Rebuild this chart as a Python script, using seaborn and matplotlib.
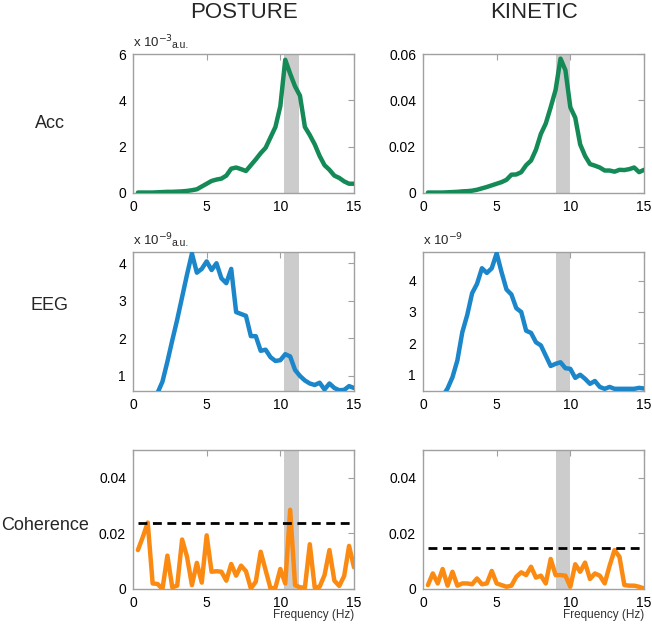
import numpy as np
import pandas as pd
import matplotlib
matplotlib.use('Agg')
import matplotlib.pyplot as plt
import seaborn as sns

# frequency axis, 1/3 Hz resolution
freq = np.arange(1, 46) / 3.0

# Acc power (posture in x 1e-3 a.u., kinetic in a.u.)
acc_posture = [0.02, 0.02, 0.02, 0.02, 0.03, 0.04, 0.05, 0.05, 0.06, 0.07,
               0.09, 0.12, 0.16, 0.28, 0.40, 0.52, 0.58, 0.62, 0.75, 1.05,
               1.10, 1.03, 0.95, 1.20, 1.45, 1.72, 1.95, 2.40, 2.85, 3.75,
               5.75, 5.15, 4.60, 4.20, 2.85, 2.50, 2.10, 1.60, 1.20, 1.00,
               0.75, 0.65, 0.50, 0.40, 0.40]
acc_kinetic = [0.0002, 0.0002, 0.0002, 0.0002, 0.0003, 0.0004, 0.0005, 0.0007, 0.0008, 0.0010,
               0.0014, 0.0020, 0.0026, 0.0033, 0.0040, 0.0047, 0.0057, 0.0079, 0.0080, 0.0090,
               0.0120, 0.0140, 0.0187, 0.0255, 0.0300, 0.0370, 0.0445, 0.0580, 0.0530, 0.0370,
               0.0325, 0.0210, 0.0160, 0.0125, 0.0118, 0.0110, 0.0097, 0.0097, 0.0092, 0.0100,
               0.0099, 0.0103, 0.0110, 0.0090, 0.0100]

# EEG power (x 1e-9)
eeg_posture = [0.15, 0.20, 0.30, 0.40, 0.55, 0.85, 1.38, 1.95, 2.50, 3.10,
               3.70, 4.26, 3.75, 3.85, 4.05, 3.82, 4.00, 3.60, 3.47, 3.85,
               2.70, 2.65, 2.60, 2.06, 2.06, 1.67, 1.70, 1.50, 1.40, 1.42,
               1.58, 1.52, 1.16, 1.00, 0.88, 0.80, 0.76, 0.82, 0.64, 0.80,
               0.68, 0.62, 0.63, 0.73, 0.68]
eeg_kinetic = [0.10, 0.15, 0.20, 0.30, 0.55, 0.91, 1.45, 2.35, 2.90, 3.60,
               3.90, 4.40, 4.25, 4.40, 4.88, 4.27, 3.72, 3.56, 3.12, 3.00,
               2.40, 2.33, 2.03, 1.93, 1.60, 1.27, 1.34, 1.39, 1.20, 1.18,
               0.89, 0.99, 0.86, 0.70, 0.79, 0.60, 0.54, 0.60, 0.54, 0.54,
               0.54, 0.54, 0.54, 0.57, 0.55]

# coherence
coh_posture = [0.0140, 0.0187, 0.0239, 0.0020, 0.0018, 0.0000, 0.0120, 0.0006, 0.0012, 0.0178,
               0.0116, 0.0014, 0.0094, 0.0023, 0.0193, 0.0062, 0.0064, 0.0062, 0.0030, 0.0090,
               0.0048, 0.0084, 0.0064, 0.0002, 0.0026, 0.0134, 0.0068, 0.0002, 0.0005, 0.0072,
               0.0020, 0.0285, 0.0014, 0.0006, 0.0005, 0.0161, 0.0005, 0.0008, 0.0050, 0.0140,
               0.0030, 0.0011, 0.0047, 0.0155, 0.0078]
coh_kinetic = [0.0014, 0.0056, 0.0020, 0.0072, 0.0012, 0.0062, 0.0012, 0.0020, 0.0020, 0.0017,
               0.0038, 0.0017, 0.0020, 0.0065, 0.0020, 0.0014, 0.0008, 0.0012, 0.0044, 0.0060,
               0.0050, 0.0080, 0.0041, 0.0048, 0.0020, 0.0108, 0.0050, 0.0050, 0.0048, 0.0008,
               0.0089, 0.0062, 0.0095, 0.0036, 0.0056, 0.0048, 0.0020, 0.0084, 0.0140, 0.0116,
               0.0014, 0.0012, 0.0012, 0.0008, 0.0002]
coh_threshold = [0.0239, 0.0149]

# tremor frequency bands
band_posture = (10.25, 11.25)
band_kinetic = (9.0, 10.0)

green = '#148a57'
blue = '#1b86c9'
orange = '#fb8a12'
band_grey = '#cccccc'
spine_grey = '#a0a0a0'

sns.set_style('white')
plt.rcParams['font.family'] = ['Liberation Sans', 'DejaVu Sans']

fig = plt.figure(figsize=(6.52, 6.25), dpi=100)

lefts = [133 / 652, 423 / 652]
bottoms = [(625 - 193) / 625, (625 - 391) / 625, (625 - 589) / 625]
w = 221 / 652
h = 139 / 625


def style_ax(ax):
    for s in ax.spines.values():
        s.set_color(spine_grey)
        s.set_linewidth(1.0)
    ax.tick_params(direction='in', length=4, width=0.8, color=spine_grey,
                   top=True, right=True, labelsize=10, labelcolor='black', pad=5)
    ax.set_xlim(0, 15)
    ax.set_xticks([0, 5, 10, 15])
    ax.set_xlabel('')
    ax.set_ylabel('')


def draw(ax, y, color, band):
    ax.axvspan(band[0], band[1], color=band_grey, lw=0, zorder=0)
    df = pd.DataFrame({'f': freq, 'v': y})
    sns.lineplot(data=df, x='f', y='v', ax=ax, color=color, lw=3.2, zorder=3)
    style_ax(ax)


rows = [
    (acc_posture, acc_kinetic, green),
    (eeg_posture, eeg_kinetic, blue),
    (coh_posture, coh_kinetic, orange),
]
bands = [band_posture, band_kinetic]

axes = [[None, None] for _ in range(3)]
for r, (yp, yk, col) in enumerate(rows):
    for c, y in enumerate([yp, yk]):
        ax = fig.add_axes([lefts[c], bottoms[r], w, h])
        draw(ax, y, col, bands[c])
        axes[r][c] = ax

# row 1 limits
axes[0][0].set_ylim(0, 6)
axes[0][0].set_yticks([0, 2, 4, 6])
axes[0][1].set_ylim(0, 0.06)
axes[0][1].set_yticks([0, 0.02, 0.04, 0.06])
axes[0][1].set_yticklabels(['0', '0.02', '0.04', '0.06'])

# row 2 limits
axes[1][0].set_ylim(0.6, 4.3)
axes[1][0].set_yticks([1, 2, 3, 4])
axes[1][1].set_ylim(0.47, 4.92)
axes[1][1].set_yticks([1, 2, 3, 4])

# row 3 limits + threshold
for c in range(2):
    ax = axes[2][c]
    ax.set_ylim(0, 0.05)
    ax.set_yticks([0, 0.02, 0.04])
    ax.set_yticklabels(['0', '0.02', '0.04'])
    ax.plot([freq[0], freq[-1]], [coh_threshold[c]] * 2, color='black',
            lw=2, ls=(0, (3.2, 2.0)), zorder=4)
    ax.text(1.0, -0.19, 'Frequency (Hz)', transform=ax.transAxes,
            ha='right', va='center', fontsize=8.5, color='#333333')

# exponent labels
for ax, exp, au in [(axes[0][0], '-3', True), (axes[1][0], '-9', True), (axes[1][1], '-9', False)]:
    ax.text(0.0, 1.03, r'x 10$^{' + exp + '}$', transform=ax.transAxes,
            ha='left', va='bottom', fontsize=9.5)
    if au:
        ax.text(0.175, 1.03, 'a.u.', transform=ax.transAxes,
                ha='left', va='bottom', fontsize=7.5)

# column titles
fig.text(243.5 / 652, 1 - 13 / 625, 'POSTURE', ha='center', va='center', fontsize=16)
fig.text(533.5 / 652, 1 - 13 / 625, 'KINETIC', ha='center', va='center', fontsize=16)

# row labels
fig.text(50 / 652, 1 - 123 / 625, 'Acc', ha='center', va='center', fontsize=13)
fig.text(50 / 652, 1 - 306 / 625, 'EEG', ha='center', va='center', fontsize=13)
fig.text(45 / 652, 1 - 525 / 625, 'Coherence', ha='center', va='center', fontsize=13)

fig.savefig('out.png', dpi=100)
